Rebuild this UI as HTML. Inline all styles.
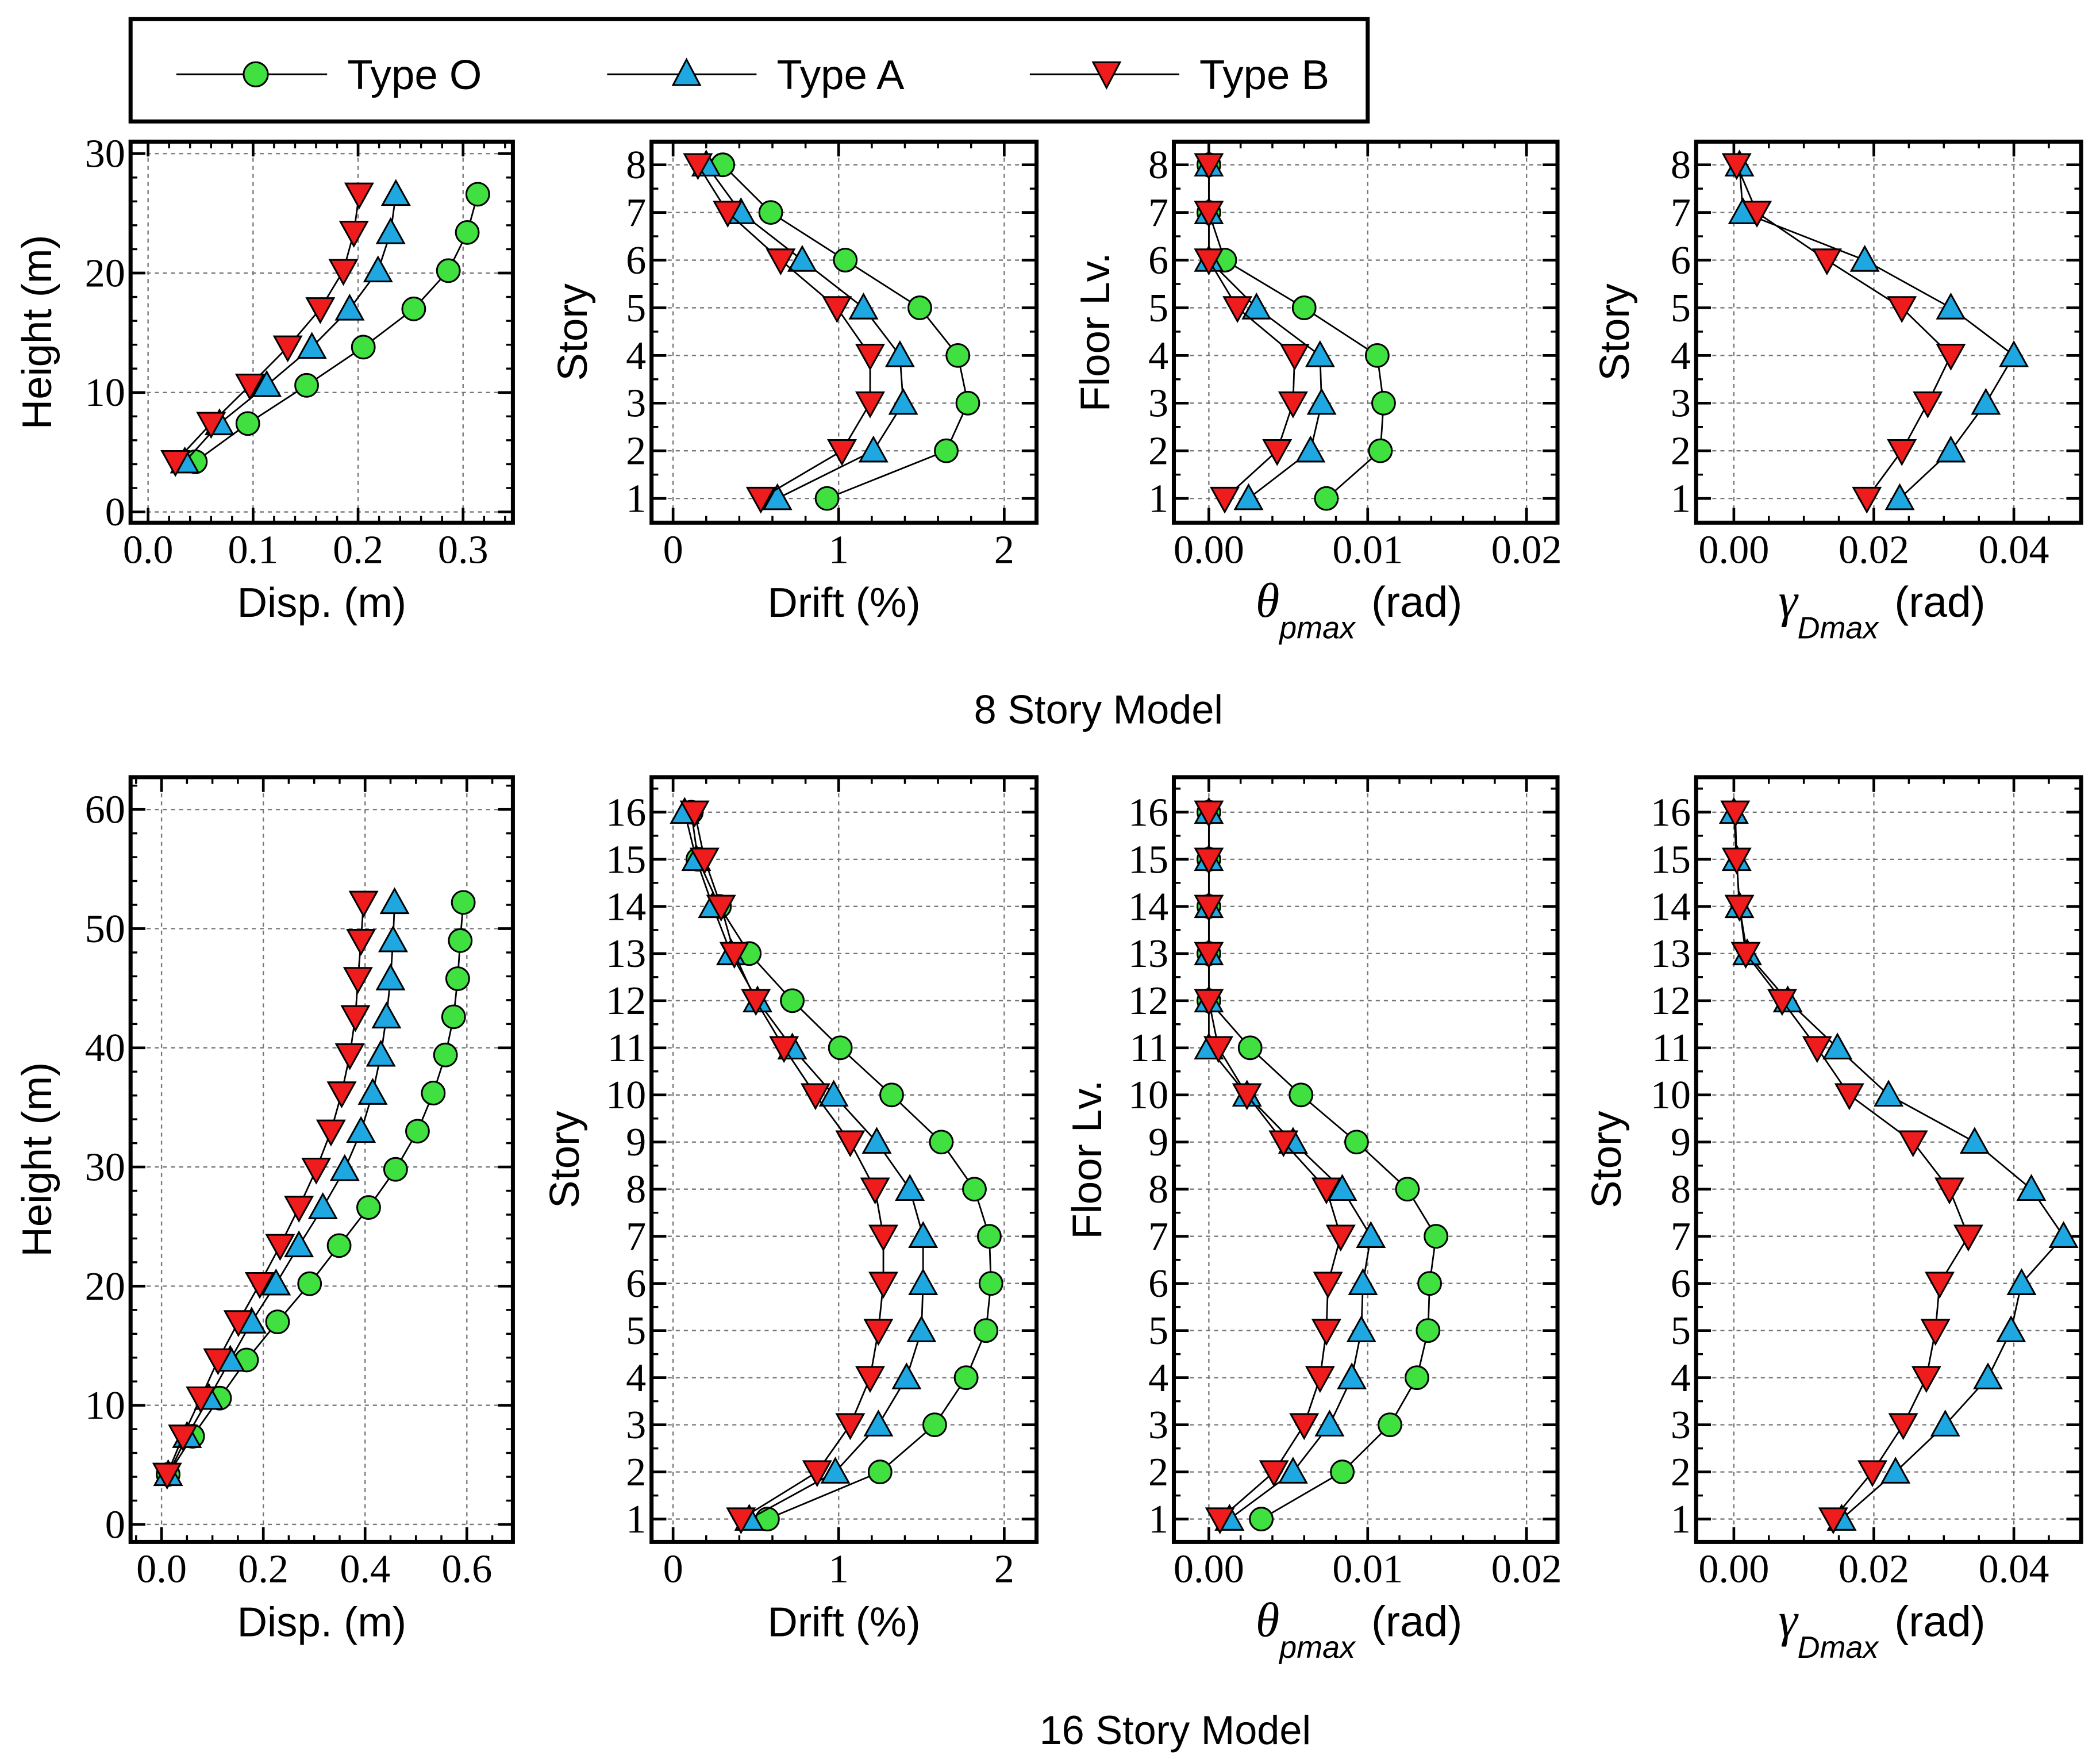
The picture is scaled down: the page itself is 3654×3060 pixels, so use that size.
<!DOCTYPE html>
<html><head><meta charset="utf-8">
<style>
html,body{margin:0;padding:0;background:#fff;}
svg{display:block;}
</style></head>
<body>
<svg id="chart" width="3654" height="3060" viewBox="0 0 1560 1306" xmlns="http://www.w3.org/2000/svg" font-family="Liberation Sans, sans-serif">
<g>
<rect x="97" y="14" width="919" height="76" fill="#fff" stroke="#000" stroke-width="3"/>
<g><line x1="131" y1="55" x2="243" y2="55" stroke="#000" stroke-width="1.3"/><circle cx="190" cy="55" r="9" fill="#3fe03f" stroke="#000" stroke-width="1.3"/><text x="258" y="66" font-size="31">Type O</text></g>
<g><line x1="451" y1="55" x2="562" y2="55" stroke="#000" stroke-width="1.3"/><polygon points="510,44 520,63 500,63" fill="#1ea7e0" stroke="#000" stroke-width="1.3"/><text x="577" y="66" font-size="31">Type A</text></g>
<g><line x1="765" y1="55" x2="876" y2="55" stroke="#000" stroke-width="1.3"/><polygon points="812,46 832,46 822,65" fill="#ee1c1c" stroke="#000" stroke-width="1.3"/><text x="891" y="66" font-size="31">Type B</text></g>
</g>
<text x="816" y="537" font-size="30" text-anchor="middle">8 Story Model</text>
<text x="873" y="1295" font-size="30" text-anchor="middle">16 Story Model</text>
</svg>
<script>
// ---- data ----
const heights8 = [4.2,7.4,10.6,13.8,17,20.2,23.4,26.6];
const heights16 = [4.2,7.4,10.6,13.8,17,20.2,23.4,26.6,29.8,33,36.2,39.4,42.6,45.8,49,52.2];
const stories8 = [1,2,3,4,5,6,7,8];
const stories16 = [1,2,3,4,5,6,7,8,9,10,11,12,13,14,15,16];

const disp8O = [0.045,0.095,0.151,0.205,0.253,0.286,0.304,0.314];
const disp8A = [0.035,0.068,0.113,0.156,0.192,0.219,0.231,0.236];
const disp8B = [0.026,0.060,0.097,0.133,0.164,0.186,0.196,0.201];
const drift8O = [0.93,1.65,1.78,1.72,1.49,1.04,0.59,0.30];
const drift8A = [0.63,1.21,1.39,1.37,1.15,0.78,0.41,0.20];
const drift8B = [0.53,1.02,1.19,1.19,0.99,0.65,0.33,0.15];
const theta8O = [0.0074,0.0108,0.0110,0.0106,0.0060,0.0010,0,0];
const theta8A = [0.0025,0.0064,0.0071,0.0070,0.0030,0,0,0];
const theta8B = [0.0010,0.0043,0.0053,0.0054,0.0018,0,0,0];
const gamma8A = [0.0237,0.031,0.036,0.040,0.031,0.0187,0.0013,0.0008];
const gamma8B = [0.019,0.024,0.0277,0.031,0.024,0.0133,0.0033,0.0004];

const disp16O = [0.013,0.061,0.114,0.167,0.228,0.291,0.349,0.407,0.460,0.503,0.534,0.558,0.574,0.582,0.587,0.593];
const disp16A = [0.013,0.050,0.093,0.135,0.177,0.225,0.270,0.317,0.360,0.392,0.415,0.431,0.442,0.450,0.455,0.458];
const disp16B = [0.011,0.042,0.077,0.111,0.151,0.193,0.233,0.270,0.304,0.333,0.354,0.370,0.381,0.386,0.392,0.397];
const drift16O = [0.57,1.25,1.58,1.77,1.89,1.92,1.91,1.82,1.62,1.32,1.01,0.72,0.46,0.28,0.15,0.11];
const drift16A = [0.46,0.98,1.24,1.41,1.50,1.51,1.51,1.43,1.23,0.97,0.72,0.51,0.35,0.24,0.14,0.07];
const drift16B = [0.41,0.87,1.07,1.19,1.24,1.27,1.27,1.22,1.07,0.86,0.67,0.50,0.37,0.29,0.19,0.13];
const theta16O = [0.0033,0.0084,0.0114,0.0131,0.0138,0.0139,0.0143,0.0125,0.0093,0.0058,0.0026,0,0,0,0,0];
const theta16A = [0.0013,0.0053,0.0076,0.0090,0.0096,0.0097,0.0102,0.0084,0.0053,0.0024,0,0,0,0,0,0];
const theta16B = [0.0007,0.0041,0.0060,0.0070,0.0074,0.0075,0.0083,0.0074,0.0047,0.0024,0.0006,0,0,0,0,0];
const gamma16A = [0.0154,0.0231,0.0302,0.0363,0.0396,0.0411,0.0471,0.0425,0.0344,0.0221,0.0148,0.0077,0.0019,0.0008,0.0004,0];
const gamma16B = [0.0142,0.0198,0.0242,0.0275,0.0288,0.0294,0.0335,0.0308,0.0256,0.0165,0.0119,0.0069,0.0017,0.0008,0.0004,0.0002];

const dispTicks8 = ['0.0','0.1','0.2','0.3'];
const dispTicks16 = ['0.0','0.2','0.4','0.6'];
const driftTicks = ['0','1','2'];
const thetaTicks = ['0.00','0.01','0.02'];
const gammaTicks = ['0.00','0.02','0.04'];
const heightTicks8 = ['0','10','20','30'];
const heightTicks16 = ['0','10','20','30','40','50','60'];

// ---- drawing ----
const NS='http://www.w3.org/2000/svg';
const svg=document.getElementById('chart');
function mk(tag,attrs,parent){const e=document.createElementNS(NS,tag);for(const k in attrs)e.setAttribute(k,attrs[k]);(parent||svg).appendChild(e);return e;}

const COL={O:'#3fe03f',A:'#1ea7e0',B:'#ee1c1c'};

function marker(type,x,y,g){
  let e;
  if(type==='O') e=mk('circle',{cx:x,cy:y,r:8.5,fill:COL.O,stroke:'#000','stroke-width':1.3},g);
  else if(type==='A') e=mk('polygon',{points:`${x},${y-10} ${x+10},${y+8} ${x-10},${y+8}`,fill:COL.A,stroke:'#000','stroke-width':1.3},g);
  else e=mk('polygon',{points:`${x-10},${y-8} ${x+10},${y-8} ${x},${y+10}`,fill:COL.B,stroke:'#000','stroke-width':1.3},g);
  
  
}

function panel(p){
  const g=mk('g',{});
  
  
  const [L,T,R,B]=p.box;
  const X=v=>p.x0+(v-p.xv0)*p.xs;
  const Y=v=>p.y0+(v-p.yv0)*p.ys;
  p.xt.forEach(s=>{const v=parseFloat(s),x=X(v);if(x>L+2&&x<R-2){const l=mk('line',{x1:x,y1:T,x2:x,y2:B,stroke:'#777','stroke-width':1,'stroke-dasharray':'3,3'},g);}});
  p.yt.forEach(s=>{const v=parseFloat(s),y=Y(v);if(y>T+2&&y<B-2){const l=mk('line',{x1:L,y1:y,x2:R,y2:y,stroke:'#777','stroke-width':1,'stroke-dasharray':'3,3'},g);}});
  for(let v=p.xmin0;X(v)<=R;v+=p.xmn){const x=X(v);if(x<L)continue;mk('line',{x1:x,y1:B,x2:x,y2:B-5,stroke:'#000','stroke-width':1.5},g);mk('line',{x1:x,y1:T,x2:x,y2:T+5,stroke:'#000','stroke-width':1.5},g);}
  for(let v=p.ymin0;Y(v)>=T;v+=p.ymn){const y=Y(v);if(y>B)continue;mk('line',{x1:L,y1:y,x2:L+5,y2:y,stroke:'#000','stroke-width':1.5},g);mk('line',{x1:R,y1:y,x2:R-5,y2:y,stroke:'#000','stroke-width':1.5},g);}
  p.xt.forEach(s=>{const x=X(parseFloat(s));
    mk('line',{x1:x,y1:B,x2:x,y2:B-11,stroke:'#000','stroke-width':2},g);mk('line',{x1:x,y1:T,x2:x,y2:T+11,stroke:'#000','stroke-width':2},g);
    const t=mk('text',{x:x,y:B+30,'font-size':30,'text-anchor':'middle','font-family':'Liberation Serif, serif'},g);t.textContent=s;
    });
  p.yt.forEach(s=>{const y=Y(parseFloat(s));
    mk('line',{x1:L,y1:y,x2:L+11,y2:y,stroke:'#000','stroke-width':2},g);mk('line',{x1:R,y1:y,x2:R-11,y2:y,stroke:'#000','stroke-width':2},g);
    const t=mk('text',{x:L-4,y:y+10,'font-size':30,'text-anchor':'end','font-family':'Liberation Serif, serif'},g);t.textContent=s;
    });
  const fr=mk('rect',{x:L,y:T,width:R-L,height:B-T,fill:'none',stroke:'#000','stroke-width':3},g);
  
  p.series.forEach(([type,xs])=>{
    const sg=mk('g',{},g);
    
    
    const pts=xs.map((v,i)=>X(v)+','+Y(p.yv[i])).join(' ');
    mk('polyline',{points:pts,fill:'none',stroke:'#000','stroke-width':1.2},sg);
    xs.forEach((v,i)=>marker(type,X(v),Y(p.yv[i]),sg));
  });
  const cx=(L+R)/2, cy=(T+B)/2;
  const xl=mk('text',{x:cx,y:B+70,'font-size':31,'text-anchor':'middle'},g);
  
  if(p.xsym){
    xl.setAttribute('x',cx-5);
    const a=mk('tspan',{'font-family':'Liberation Serif, serif','font-style':'italic','font-size':36},xl);a.textContent=p.xsym;
    const b=mk('tspan',{'font-style':'italic','font-size':23,dy:16},xl);b.textContent=p.xsub;
    const c=mk('tspan',{dy:-16,dx:12,'font-size':32},xl);c.textContent='(rad)';
  } else xl.textContent=p.xlab;
  const yl=mk('text',{x:p.ylx,y:cy,'font-size':31,'text-anchor':'middle',transform:`rotate(-90 ${p.ylx} ${cy})`},g);
  yl.textContent=p.ylab;
  
}

const topB=[105,388], botB=[577,1145];
panel({name:'disp-8-story',box:[97,topB[0],381,topB[1]],x0:110,xv0:0,xs:780,y0:380,yv0:0,ys:-8.87,xt:dispTicks8,yt:heightTicks8,xmin0:-0.02,xmn:0.02,ymin0:-2,ymn:2,yv:heights8,series:[['O',disp8O],['A',disp8A],['B',disp8B]],xlab:'Disp. (m)',ylab:'Height (m)',ylx:38});
panel({name:'drift-8-story',box:[484,topB[0],770,topB[1]],x0:500,xv0:0,xs:123,y0:370,yv0:1,ys:-35.4,xt:driftTicks,yt:stories8.map(String),xmin0:-0.2,xmn:0.2,ymin0:0.5,ymn:0.5,yv:stories8,series:[['O',drift8O],['A',drift8A],['B',drift8B]],xlab:'Drift (%)',ylab:'Story',ylx:436});
panel({name:'theta-8-story',box:[872,topB[0],1157,topB[1]],x0:898,xv0:0,xs:11800,y0:370,yv0:1,ys:-35.4,xt:thetaTicks,yt:stories8.map(String),xmin0:0,xmn:0.002,ymin0:0.5,ymn:0.5,yv:stories8,series:[['O',theta8O],['A',theta8A],['B',theta8B]],xsym:'θ',xsub:'pmax',ylab:'Floor Lv.',ylx:824});
panel({name:'gamma-8-story',box:[1260,topB[0],1546,topB[1]],x0:1288,xv0:0,xs:5200,y0:370,yv0:1,ys:-35.4,xt:gammaTicks,yt:stories8.map(String),xmin0:0,xmn:0.005,ymin0:0.5,ymn:0.5,yv:stories8,series:[['A',gamma8A],['B',gamma8B]],xsym:'γ',xsub:'Dmax',ylab:'Story',ylx:1210});
panel({name:'disp-16-story',box:[97,botB[0],381,botB[1]],x0:120,xv0:0,xs:378,y0:1132,yv0:0,ys:-8.85,xt:dispTicks16,yt:heightTicks16,xmin0:-0.05,xmn:0.05,ymin0:-2,ymn:2,yv:heights16,series:[['O',disp16O],['A',disp16A],['B',disp16B]],xlab:'Disp. (m)',ylab:'Height (m)',ylx:38});
panel({name:'drift-16-story',box:[484,botB[0],770,botB[1]],x0:500,xv0:0,xs:123,y0:1128,yv0:1,ys:-35,xt:driftTicks,yt:stories16.map(String),xmin0:-0.2,xmn:0.2,ymin0:0.5,ymn:0.5,yv:stories16,series:[['O',drift16O],['A',drift16A],['B',drift16B]],xlab:'Drift (%)',ylab:'Story',ylx:430});
panel({name:'theta-16-story',box:[872,botB[0],1157,botB[1]],x0:898,xv0:0,xs:11800,y0:1128,yv0:1,ys:-35,xt:thetaTicks,yt:stories16.map(String),xmin0:0,xmn:0.002,ymin0:0.5,ymn:0.5,yv:stories16,series:[['O',theta16O],['A',theta16A],['B',theta16B]],xsym:'θ',xsub:'pmax',ylab:'Floor Lv.',ylx:818});
panel({name:'gamma-16-story',box:[1260,botB[0],1546,botB[1]],x0:1288,xv0:0,xs:5200,y0:1128,yv0:1,ys:-35,xt:gammaTicks,yt:stories16.map(String),xmin0:0,xmn:0.005,ymin0:0.5,ymn:0.5,yv:stories16,series:[['A',gamma16A],['B',gamma16B]],xsym:'γ',xsub:'Dmax',ylab:'Story',ylx:1204});
</script>
</body></html>
